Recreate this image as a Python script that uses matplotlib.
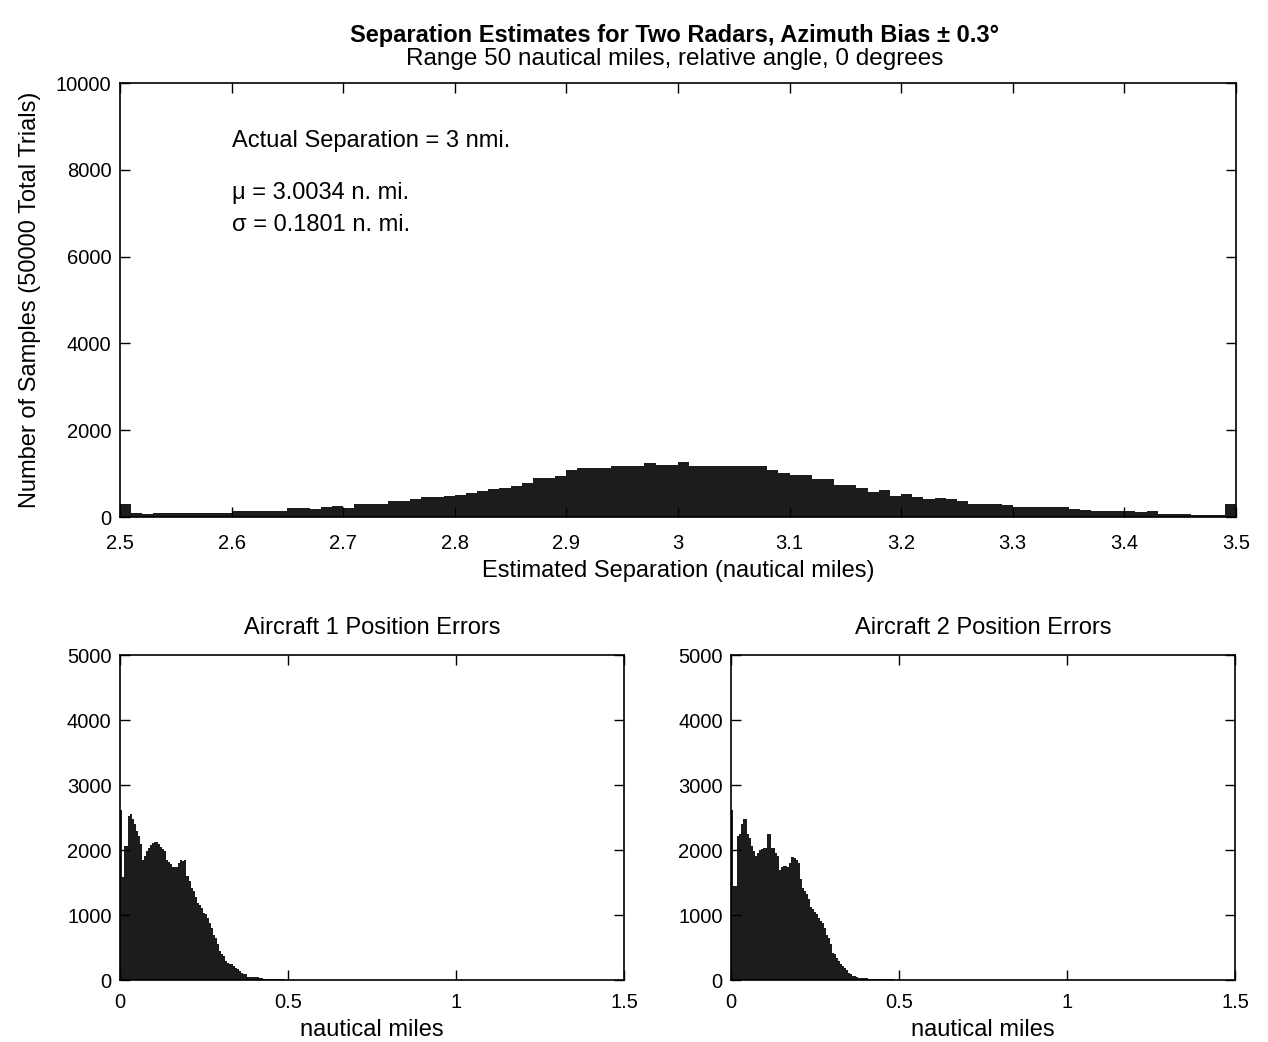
import numpy as np
import matplotlib
matplotlib.use("Agg")
import matplotlib.pyplot as plt

plt.rcParams['font.family'] = ['Liberation Sans', 'DejaVu Sans']
plt.rcParams['font.size'] = 14

# separation histogram, 100 bins of 0.01 nmi from 2.5 to 3.5
sep_lo, sep_hi = 2.5, 3.5
sep_counts = ([307, 100, 70] + [100] * 7 + [138] * 5 + [215] * 2 + [190, 230, 245, 215]
              + [307] * 3 + [369] * 2 + [407] + [453] * 2 + [484, 515, 545, 607, 637, 660, 714, 776]
              + [906] * 2 + [952, 1075] + [1137] * 3 + [1167] * 2 + [1183, 1237] + [1198] * 2 + [1260]
              + [1167] * 7 + [1083, 1021] + [968] * 2 + [868] * 2 + [730] * 2
              + [660, 576, 614, 492, 538, 461, 407, 430, 407, 369] + [307] * 3 + [269]
              + [223] * 5 + [192, 161] + [131] * 4 + [108, 131] + [69] * 3 + [38] * 3 + [307])

# position error histograms, bins of 0.006 nmi starting at 0
err_bin = 0.006
err1_counts = ([2620, 1580, 2060, 2060, 2520, 2550, 2470, 2395, 2290, 2215, 2090, 1840, 1910,
                1985, 2035, 2075, 2110, 2130, 2130, 2090, 2045, 2010, 1985, 1845, 1815, 1780,
                1740, 1740, 1740, 1795, 1845, 1830, 1850, 1600, 1525, 1420, 1370, 1275, 1190,
                1155, 1110, 1025, 1010, 960, 880, 805, 700, 650, 550, 445, 405, 370, 290, 265,
                250, 240, 215, 190, 165, 140, 110, 97, 87, 50] + [45] * 5 + [30] * 2 + [15] * 11
               + [5, 3, 4, 2, 3, 2, 1, 2, 1, 1])
err2_counts = ([2620, 1445, 1445, 2215, 2240, 2395, 2470, 2470, 2240, 2190, 2060, 1985, 1910,
                1960, 1995, 2010, 2035, 2035, 2240, 2240, 2035, 2035, 1960, 1910, 1690, 1740,
                1755, 1755, 1740, 1805, 1890, 1870, 1850, 1805, 1550, 1410, 1370, 1320, 1240,
                1125, 1100, 1050, 1020, 960, 910, 880, 805, 690, 650, 560, 420, 395, 345, 290,
                250, 215, 180, 150, 110, 87, 67, 62, 45] + [35] * 5 + [10] * 13
               + [4, 3, 3, 2, 3, 2, 2, 1, 2, 1, 1, 1, 1, 1])

fill_col = '#1c1c1c'
txt = 17


def matlab_axes(ax, xpad):
    ax.tick_params(direction='in', top=True, right=True, length=7, width=1, labelsize=14.5)
    ax.tick_params(axis='x', pad=xpad)
    ax.tick_params(axis='y', pad=6)
    for s in ax.spines.values():
        s.set_linewidth(1.2)


fig = plt.figure(figsize=(12.68, 10.42), dpi=100)

ax = fig.add_axes([0.0946, 0.5038, 0.8801, 0.4165])
edges = np.linspace(sep_lo, sep_hi, len(sep_counts) + 1)
ax.stairs(sep_counts, edges, fill=True, color=fill_col)
ax.set_xlim(2.5, 3.5)
ax.set_ylim(0, 10000)
ax.set_xticks(np.arange(2.5, 3.51, 0.1))
ax.set_xticklabels(['2.5', '2.6', '2.7', '2.8', '2.9', '3', '3.1', '3.2', '3.3', '3.4', '3.5'])
ax.set_yticks(np.arange(0, 10001, 2000))
ax.set_xlabel('Estimated Separation (nautical miles)', fontsize=txt, labelpad=5)
ax.set_ylabel('Number of Samples (50000 Total Trials)', fontsize=txt, labelpad=11)
ax.text(2.600, 8660, 'Actual Separation = 3 nmi.', fontsize=txt, va='center')
ax.text(2.600, 7470, 'μ = 3.0034 n. mi.', fontsize=txt, va='center')
ax.text(2.600, 6730, 'σ = 0.1801 n. mi.', fontsize=txt, va='center')
matlab_axes(ax, 12.5)

fig.text(0.532, 0.966, 'Separation Estimates for Two Radars, Azimuth Bias ± 0.3°',
         ha='center', va='center', fontsize=17, fontweight='bold')
fig.text(0.532, 0.943, 'Range 50 nautical miles, relative angle, 0 degrees',
         ha='center', va='center', fontsize=17.5)

for left, counts, title in [(0.0946, err1_counts, 'Aircraft 1 Position Errors'),
                            (0.5765, err2_counts, 'Aircraft 2 Position Errors')]:
    axb = fig.add_axes([left, 0.0595, 0.3975, 0.3119])
    e = np.arange(len(counts) + 1) * err_bin
    axb.stairs(counts, e, fill=True, color=fill_col)
    axb.set_xlim(0, 1.5)
    axb.set_ylim(0, 5000)
    axb.set_xticks([0, 0.5, 1, 1.5])
    axb.set_xticklabels(['0', '0.5', '1', '1.5'])
    axb.set_yticks(np.arange(0, 5001, 1000))
    axb.set_title(title, fontsize=txt, pad=15)
    axb.set_xlabel('nautical miles', fontsize=txt, labelpad=5)
    matlab_axes(axb, 9.5)

fig.savefig('out.png', dpi=100)
